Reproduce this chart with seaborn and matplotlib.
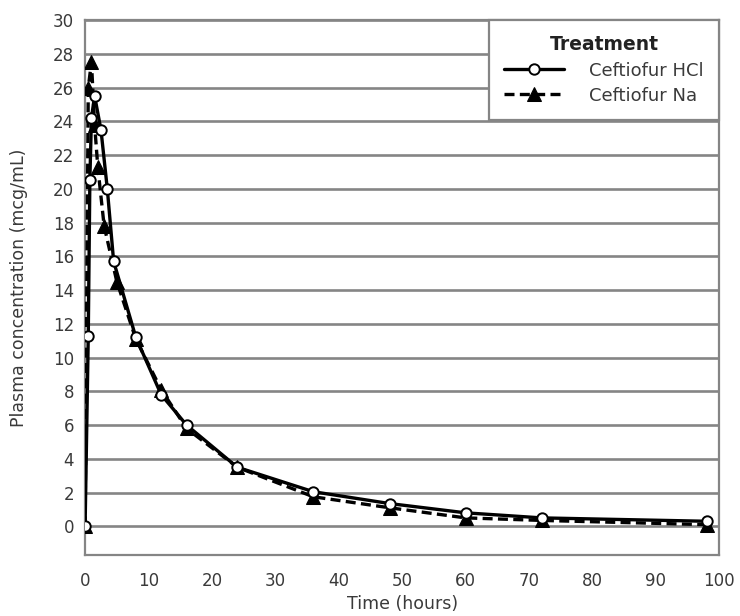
import matplotlib
matplotlib.use("Agg")
import matplotlib.pyplot as plt
import numpy as np
import pandas as pd
import seaborn as sns

# ---------------------------------------------------------------------------
# Data
# ---------------------------------------------------------------------------
hcl_time = [0, 0.5, 0.75, 1.0, 1.5, 2.5, 3.5, 4.5, 8, 12, 16, 24, 36, 48, 60, 72, 98]
hcl_conc = [0, 11.3, 20.5, 24.2, 25.5, 23.5, 20.0, 15.7, 11.2, 7.8, 6.0, 3.5,
            2.05, 1.35, 0.8, 0.5, 0.3]

na_time = [0, 0.5, 1.0, 1.5, 2.0, 3.0, 5.0, 8, 12, 16, 24, 36, 48, 60, 72, 98]
na_conc = [0, 26.0, 27.5, 23.8, 21.3, 17.8, 14.5, 11.1, 8.1, 5.8, 3.5, 1.75,
           1.1, 0.5, 0.35, 0.1]

series_names = ["Ceftiofur HCl", "Ceftiofur Na"]
y_ticks = list(range(0, 31, 2))
x_ticks = list(range(0, 101, 10))

GRID = "#858585"
TEXT = "#3a3a3a"

sns.set_style("white")
plt.rcParams["font.family"] = ["DejaVu Sans"]

fig = plt.figure(figsize=(7.4, 6.16), dpi=100)
ax = fig.add_axes([0.115, 0.099, 0.857, 0.8685])

hcl = pd.DataFrame({"time": hcl_time, "conc": hcl_conc})
na = pd.DataFrame({"time": na_time, "conc": na_conc})

sns.lineplot(data=hcl, x="time", y="conc", ax=ax, color="black", linewidth=2.4,
             marker="o", markersize=7.5, markerfacecolor="white",
             markeredgecolor="black", markeredgewidth=1.4,
             label=series_names[0], zorder=4)
sns.lineplot(data=na, x="time", y="conc", ax=ax, color="black", linewidth=2.4,
             linestyle=(0, (3, 1.6)), marker="^", markersize=9.5,
             markerfacecolor="black", markeredgecolor="black",
             label=series_names[1], zorder=3)

ax.set_xlim(0, 100)
ax.set_ylim(-1.7, 30)
ax.set_yticks(y_ticks)
ax.set_xticks(x_ticks)
ax.set_xticks(np.arange(5, 100, 10), minor=True)
ax.yaxis.grid(True, color=GRID, linewidth=1.9)
ax.xaxis.grid(False)
ax.set_axisbelow(True)

for s in ax.spines.values():
    s.set_color(GRID)
    s.set_linewidth(1.6)

ax.tick_params(axis="both", which="major", direction="out", length=5,
               width=1.2, color=GRID, labelsize=12, labelcolor=TEXT)
ax.tick_params(axis="x", which="minor", direction="out", length=4,
               width=1.2, color=GRID)
ax.tick_params(axis="x", which="major", pad=7)
ax.tick_params(axis="y", which="major", pad=3)

ax.set_xlabel("Time (hours)", fontsize=12.5, color=TEXT, labelpad=4)
ax.set_ylabel("Plasma concentration (mcg/mL)", fontsize=12.5, color=TEXT,
              labelpad=18)

leg = ax.legend(title="Treatment", loc="upper right", borderaxespad=0,
                fancybox=False, framealpha=1, edgecolor=GRID,
                fontsize=13, title_fontsize=13.5, handlelength=3.3,
                borderpad=0.85, labelspacing=0.4, handletextpad=1.4)
leg.get_title().set_fontweight("bold")
leg.get_title().set_color("#222222")
leg.get_frame().set_linewidth(1.6)
for t in leg.get_texts():
    t.set_color(TEXT)
leg.set_zorder(10)

fig.savefig("out.png", dpi=100)
